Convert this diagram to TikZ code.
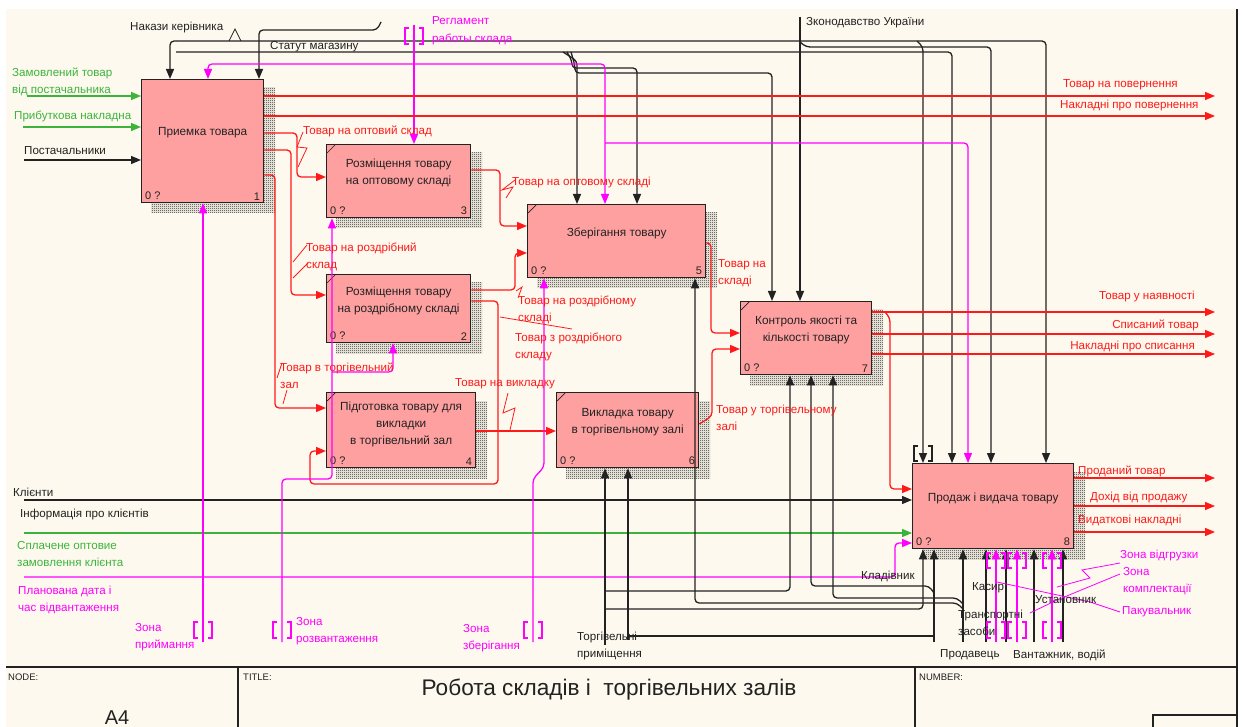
\documentclass[tikz,border=0pt]{standalone}
\usepackage{fontspec}
\setmainfont{Liberation Sans}
\usetikzlibrary{arrows.meta,patterns}

% fine checker texture for the activity shadows
\pgfdeclarepatternformonly{chk}{\pgfpointorigin}{\pgfpoint{2pt}{2pt}}{\pgfpoint{2pt}{2pt}}{%
  \pgfpathrectangle{\pgfpointorigin}{\pgfpoint{1pt}{1pt}}%
  \pgfpathrectangle{\pgfpoint{1pt}{1pt}}{\pgfpoint{1pt}{1pt}}%
  \pgfusepath{fill}}

\definecolor{paper}{HTML}{FDF9EE}
\definecolor{boxpink}{HTML}{FFA0A0}
\definecolor{arrred}{HTML}{FF1A1A}
\definecolor{arrgreen}{HTML}{3CB43C}
\definecolor{arrmag}{HTML}{FF00FF}
\definecolor{ink}{HTML}{222222}

\tikzset{
  box/.style={draw=ink, line width=1.3pt, fill=boxpink, anchor=north west, inner sep=0pt},
  boxtxt/.style={align=center, font=\fontsize{11.8}{17}\selectfont, text=ink},
  numtxt/.style={font=\fontsize{11}{12}\selectfont, text=ink, inner sep=0pt},
  wire/.style={line width=1.3pt, rounded corners=4pt},
  tip/.style={-{Triangle[length=10pt,width=8pt]}},
  rw/.style={wire, draw=arrred, arrred},
  gw/.style={wire, draw=arrgreen, arrgreen},
  mw/.style={wire, draw=arrmag, arrmag},
  kw/.style={wire, draw=ink, ink},
  lab/.style={anchor=west, inner sep=0pt, align=left, font=\fontsize{11.6}{17}\selectfont},
  rlab/.style={lab, text=arrred},
  glab/.style={lab, text=arrgreen},
  mlab/.style={lab, text=arrmag},
  klab/.style={lab, text=ink},
  squig/.style={line width=0.8pt},
  tun/.style={line width=1.1pt},
}

% activity box: name, x, y, width, height, text, number, text lift
\newcommand\idefact[8]{%
  \fill[pattern=chk, pattern color=ink] (#2+10,#3+9) rectangle (#2+#4+12,#3+#5+11);
  \node[box, minimum width=#4pt, minimum height=#5pt] (#1) at (#2,#3) {};
  \node[boxtxt] at ([yshift=#8pt]#1.center) {#6};
  \node[numtxt, anchor=south west] at ([shift={(4pt,3pt)}]#1.south west) {0 ?};
  \node[numtxt, anchor=south east] at ([shift={(-4pt,3pt)}]#1.south east) {#7};
}
% corner mark of a decomposed activity
\newcommand\dtick[1]{\draw[line width=0.7pt, draw=ink] ([shift={(1pt,-9pt)}]#1.north west) -- ([shift={(9pt,-1pt)}]#1.north west);}
% tunnel brackets round a vertical arrow: x, top, bottom
\newcommand\tunv[3]{%
  \draw[tun] (#1-5,#2) -- (#1-9,#2) -- (#1-9,#3) -- (#1-5,#3);
  \draw[tun] (#1+5,#2) -- (#1+9,#2) -- (#1+9,#3) -- (#1+5,#3);}

\begin{document}
\begin{tikzpicture}[x=1pt, y=-1pt]
\useasboundingbox (0,0) rectangle (1242,727);
\fill[white] (0,0) rectangle (1242,727);
\fill[paper] (6,9) rectangle (1237,727);

% ---------- activities ----------
\idefact{b1}{141}{79}{122}{123}{Приемка товара}{1}{8}
\idefact{b3}{326}{144}{144}{73}{Розміщення товару\\на оптовому складі}{3}{8}
\idefact{b2}{326}{274}{144}{68}{Розміщення товару\\на роздрібному складі}{2}{8}
\idefact{b4}{326}{392}{149}{75}{Підготовка товару для\\викладки\\в торгівельний зал}{4}{6}
\idefact{b5}{527}{204}{178}{73}{Зберігання товару}{5}{8}
\idefact{b6}{556}{392}{142}{75}{Викладка товару\\в торгівельному залі}{6}{8}
\idefact{b7}{740}{301}{131}{73}{Контроль якості та\\кількості товару}{7}{8}
\idefact{b8}{912}{463}{161}{85}{Продаж і видача товару}{8}{8}
\dtick{b2}\dtick{b3}\dtick{b4}\dtick{b5}\dtick{b6}\dtick{b7}

% ---------- controls from above ----------
\draw[kw,tip] (176,41) -- (1046,41) -- (b8.north -| 1046,0);
\draw[kw,tip] (176,41) -- (170,41) -- (b1.north -| 170,0);
\draw[kw,tip] (381,22) -- (377,30) -- (259,30) -- (b1.north -| 259,0);
\draw[kw,tip] (176,52) -- (952,52) -- (b8.north -| 952,0);
\draw[kw,tip] (800,42) -- (806,47) -- (991,47) -- (b8.north -| 991,0);
\draw[kw,tip] (917,41) -- (923,47) -- (b8.north -| 923,0);
\draw[kw,tip] (800,17) -- (b7.north -| 800,0);
\draw[kw,tip] (563,52) -- (577,61) -- (b5.north -| 577,0);
\draw[kw,tip] (567,52) -- (572,61) -- (572,68) -- (637,68) -- (b5.north -| 637,0);
\draw[kw,tip] (571,52) -- (575,66) -- (575,73) -- (772,73) -- (b7.north -| 772,0);
\draw[squig, ink] (229,41) -- (235,29) -- (241,41);
\begin{scope}[ink]\tunv{923}{446}{461}\end{scope}

\draw[mw,tip] (414,25) -- (b3.north -| 414,0);
\draw[mw,tip] (414,64) -- (208,64) -- (b1.north -| 208,0);
\draw[mw,tip] (414,64) -- (605,64) -- (b5.north -| 605,0);
\draw[mw,tip] (605,143) -- (968,143) -- (b8.north -| 968,0);
\begin{scope}[arrmag]\tunv{414}{28}{44}\end{scope}

% ---------- inputs from the left ----------
\draw[gw,tip] (27,96) -- (b1.west |- 0,96);
\draw[gw,tip] (23,127) -- (b1.west |- 0,127);
\draw[kw,tip] (24,160) -- (b1.west |- 0,160);
\draw[kw,tip] (24,500) -- (b8.west |- 0,500);
\draw[gw,tip] (24,533) -- (b8.west |- 0,533);
\draw[mw,tip] (24,577) -- (895,577) -- (895,543) -- (b8.west |- 0,543);

% ---------- flows between activities ----------
\draw[rw,tip] (b1.east |- 0,96) -- (1215,96);
\draw[rw,tip] (b1.east |- 0,116) -- (1215,116);
\draw[rw,tip] (b1.east |- 0,133) -- (297,133) -- (297,177) -- (b3.west |- 0,177);
\draw[rw,tip] (b1.east |- 0,150) -- (291,150) -- (291,295) -- (b2.west |- 0,295);
\draw[rw,tip] (b1.east |- 0,175) -- (275,175) -- (275,408) -- (b4.west |- 0,408);
\draw[rw,tip] (b3.east |- 0,170) -- (500,170) -- (500,226) -- (b5.west |- 0,226);
\draw[rw,tip] (b2.east |- 0,290) -- (515,290) -- (515,253) -- (b5.west |- 0,253);
\draw[rw,tip] (b2.east |- 0,301) -- (498,301) -- (498,484) -- (310,484) -- (310,451) -- (b4.west |- 0,451);
\draw[rw,tip] (b4.east |- 0,431) -- (b6.west |- 0,431);
\draw[rw,tip] (b5.east |- 0,243) -- (711,243) -- (711,333) -- (b7.west |- 0,333);
\draw[rw,tip] (b6.east |- 0,424) -- (712,416) -- (712,349) -- (b7.west |- 0,349);
\draw[rw,tip] (b7.east |- 0,312) -- (1215,312);
\draw[rw,tip] (b7.east |- 0,334) -- (1215,334);
\draw[rw,tip] (b7.east |- 0,354) -- (1215,354);
\draw[rw,tip] (885,312) -- (890,318) -- (890,489) -- (b8.west |- 0,489);
\draw[rw,tip] (b8.east |- 0,478) -- (1215,478);
\draw[rw,tip] (b8.east |- 0,506) -- (1215,506);
\draw[rw,tip] (b8.east |- 0,532) -- (1215,532);

% ---------- mechanisms from below ----------
\draw[kw,tip] (605,645) -- (b6.south -| 605,0);
\draw[kw,tip] (628,640) -- (b6.south -| 628,0);
\draw[kw,tip] (605,591) -- (790,591) -- (b7.south -| 790,0);
\draw[kw,tip] (605,609) -- (923,609) -- (b8.south -| 923,0);
\draw[kw,tip] (934,642) -- (b8.south -| 934,0);
\draw[kw,tip] (934,593) -- (929,586) -- (811,586) -- (b7.south -| 811,0);
\draw[kw] (628,636) -- (934,636);
\draw[kw,tip] (963,642) -- (b8.south -| 963,0);
\draw[kw,tip] (963,604) -- (957,598) -- (833,598) -- (b7.south -| 833,0);
\draw[kw,tip] (963,609) -- (957,603) -- (695,603) -- (b5.south -| 695,0);
\foreach \mx in {986,1006,1034,1063}
  \draw[kw,tip] (\mx,642) -- (b8.south -| \mx,0);

\draw[mw,tip] (203,642) -- (b1.south -| 203,0);
\draw[mw,tip] (282,642) -- (282,479) -- (332,479) -- (b3.south -| 332,0);
\draw[mw,tip] (332,372) -- (393,372) -- (b2.south -| 393,0);
\draw[mw,tip] (533,642) -- (533,479) -- (544,467) -- (b5.south -| 544,0);
\foreach \mx in {996,1017,1052}
  \draw[mw,tip] (\mx,642) -- (b8.south -| \mx,0);
\begin{scope}[arrmag]
  \tunv{203}{622}{638}\tunv{282}{622}{638}\tunv{533}{622}{638}
  \foreach \mx in {996,1017,1052} {\tunv{\mx}{553}{568}\tunv{\mx}{622}{638}}
\end{scope}

% ---------- label squiggles ----------
\begin{scope}[squig, arrred]
  \draw (303,132) -- (297,147) -- (307,148) -- (298,167);
  \draw (515,180) -- (502,190) -- (513,187) -- (506,198);
  \draw (307,245) -- (293,262);
  \draw (308,263) -- (293,278);
  \draw (516,291) -- (522,287) -- (518,298);
  \draw (500,317) -- (572,329);
  \draw (282,363) -- (277,378);
  \draw (287,390) -- (283,404);
  \draw (508,393) -- (503,413) -- (515,408) -- (510,430);
\end{scope}
\begin{scope}[squig, arrmag]
  \draw (1120,563) -- (1082,570) -- (1090,578) -- (1057,587);
  \draw (1120,574) -- (1057,600) -- (1030,613);
  \draw (1120,612) -- (1090,602) -- (997,582);
\end{scope}

% ---------- arrow labels ----------
\node[klab] at (130,28) {Накази керівника};
\node[klab] at (270,47) {Статут магазину};
\node[mlab, font=\fontsize{11.6}{18}\selectfont] at (432,31) {Регламент\\работы  склада};
\node[klab] at (806,23) {Зконодавство України};
\node[glab] at (12,82) {Замовлений товар\\від постачальника};
\node[glab] at (14,116) {Прибуткова накладна};
\node[klab] at (24,151) {Постачальники};
\node[rlab] at (1063,85) {Товар на повернення};
\node[rlab] at (1060,106) {Накладні про повернення};
\node[rlab] at (303,131) {Товар на оптовий склад};
\node[rlab] at (512,183) {Товар на оптовому складі};
\node[rlab] at (306,257) {Товар на роздрібний\\склад};
\node[rlab] at (518,310) {Товар на роздрібному\\складі};
\node[rlab] at (515,347) {Товар з роздрібного\\складу};
\node[rlab] at (718,273) {Товар на\\складі};
\node[rlab] at (280,376) {Товар в торгівельний\\зал};
\node[rlab] at (455,384) {Товар на викладку};
\node[rlab] at (716,418) {Товар у торгівельному\\залі};
\node[rlab, anchor=east] at (1195,297) {Товар у наявності};
\node[rlab, anchor=east] at (1199,325) {Списаний товар};
\node[rlab, anchor=east] at (1195,347) {Накладні про списання};
\node[rlab] at (1078,471) {Проданий товар};
\node[rlab] at (1090,497) {Дохід від продажу};
\node[rlab] at (1078,520) {Видаткові накладні};
\node[klab] at (13,492) {Клієнти};
\node[klab] at (20,514) {Інформація про клієнтів};
\node[glab] at (17,554) {Сплачене оптовие\\замовлення клієнта};
\node[mlab] at (18,600) {Планована дата і\\час відвантаження};
\node[mlab] at (135,637) {Зона\\приймання};
\node[mlab] at (296,631) {Зона\\розвантаження};
\node[mlab] at (463,638) {Зона\\зберігання};
\node[klab] at (577,646) {Торгівельні\\приміщення};
\node[klab] at (861,576) {Кладівник};
\node[klab] at (972,588) {Касир};
\node[klab] at (958,623) {Транспортні\\засоби};
\node[klab] at (940,655) {Продавець};
\node[klab] at (1013,655) {Вантажник, водій};
\node[klab] at (1035,600) {Установник};
\node[mlab] at (1120,555) {Зона відгрузки};
\node[mlab] at (1123,581) {Зона\\комплектації};
\node[mlab] at (1122,612) {Пакувальник};

% ---------- frame and title block ----------
\begin{scope}[draw=ink, line width=1.3pt]
  \draw (1237,9) -- (1237,727);
  \draw (6,667) -- (1237,667);
  \draw (238,667) -- (238,727);
  \draw (915,667) -- (915,727);
  \draw (1153,727) -- (1153,715) -- (1237,715);
\end{scope}
\node[klab, font=\fontsize{9.5}{11}\selectfont] (nodehd) at (8,677) {NODE:};
\node[klab, font=\fontsize{9.5}{11}\selectfont] (titlehd) at (243,677) {TITLE:};
\node[klab, font=\fontsize{9.5}{11}\selectfont] (numhd) at (919,677) {NUMBER:};
\node[text=ink, font=\fontsize{20}{24}\selectfont, inner sep=0pt, anchor=base] (nodeid) at (117,724) {A4};
\node[text=ink, font=\fontsize{22.6}{26}\selectfont, inner sep=0pt] (ttl) at (609,690) {Робота складів і\ \ торгівельних залів};
\end{tikzpicture}
\end{document}
